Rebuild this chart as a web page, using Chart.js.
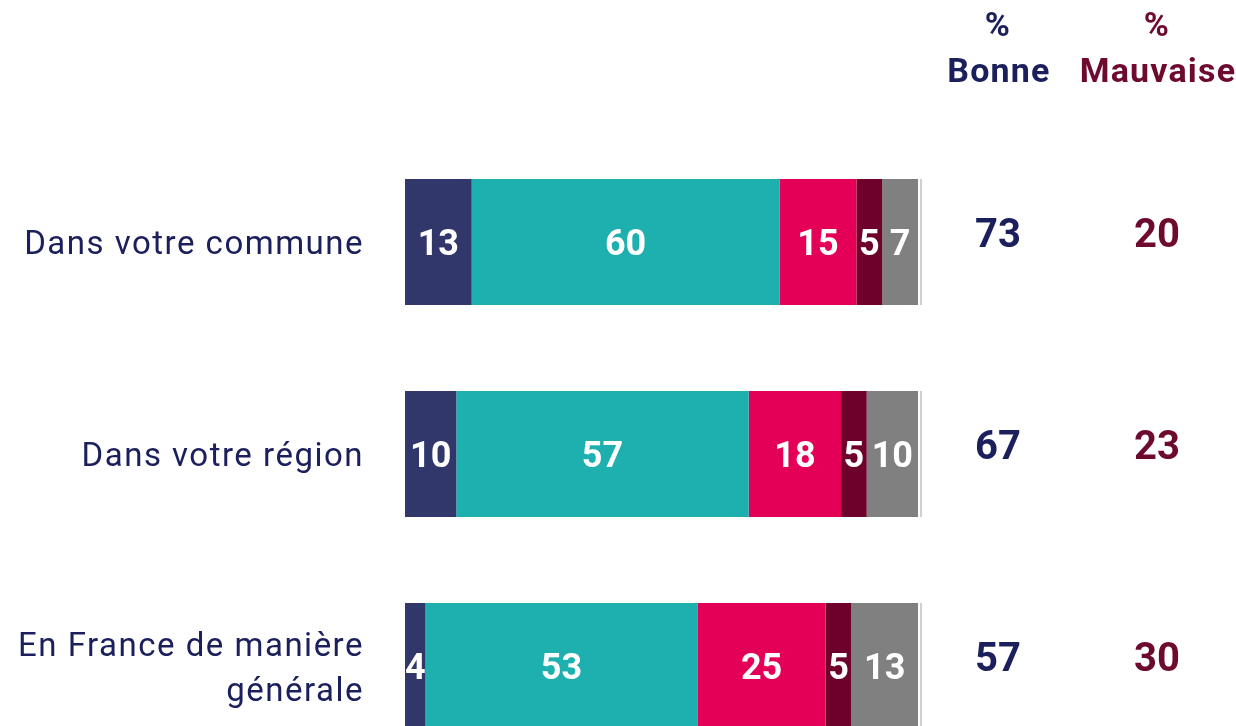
<!DOCTYPE html>
<html lang="fr">
<head>
<meta charset="utf-8">
<title>Situation perçue</title>
<script src="https://cdn.jsdelivr.net/npm/chart.js@4.4.1/dist/chart.umd.min.js"></script>
<style>
	html, body { margin: 0; padding: 0; background: #fff; overflow: hidden; }
	#wrap { position: relative; width: 1236px; height: 800px; }
</style>
</head>
<body>
<div id="wrap"><canvas id="chart" width="1236" height="800"></canvas></div>
<script>
const categories = [
	'Dans votre commune',
	'Dans votre région',
	['En France de manière', 'générale']
];
const tresBonne = [13, 10, 4];
const plutotBonne = [60, 57, 53];
const plutotMauvaise = [15, 18, 25];
const tresMauvaise = [5, 5, 5];
const nsp = [7, 10, 13];
const totalBonne = [73, 67, 57];
const totalMauvaise = [20, 23, 30];

const NAVY = '#1b1f5c';
const WINE = '#6e0a2e';
const FONT = 'Roboto, "Noto Sans", sans-serif';

// the original font is a bit wider than Roboto, so space the letters out
const spacing = {
	id: 'spacing',
	beforeDraw(chart){ chart.ctx.letterSpacing = '1.5px'; },
	afterDraw(chart){ chart.ctx.letterSpacing = '0px'; }
};

// white numbers inside each segment
const segmentLabels = {
	id: 'segmentLabels',
	afterDatasetsDraw(chart){
		const ctx = chart.ctx;
		ctx.save();
		ctx.letterSpacing = '0px';
		ctx.fillStyle = '#fff';
		ctx.font = 'bold 36px ' + FONT;
		ctx.textAlign = 'center';
		ctx.textBaseline = 'middle';
		chart.data.datasets.forEach((ds, di) => {
			chart.getDatasetMeta(di).data.forEach((bar, i) => {
				ctx.fillText(String(ds.data[i]), (bar.x + bar.base) / 2, bar.y + 4);
			});
		});
		ctx.restore();
	}
};

// "% Bonne" / "% Mauvaise" columns on the right
const totalsColumns = {
	id: 'totalsColumns',
	afterDraw(chart){
		const ctx = chart.ctx;
		const y = chart.scales.y;
		const cols = [
			{ x: 998, title: 'Bonne', color: NAVY, values: totalBonne },
			{ x: 1157, title: 'Mauvaise', color: WINE, values: totalMauvaise }
		];
		ctx.save();
		ctx.textAlign = 'center';
		ctx.textBaseline = 'middle';
		cols.forEach(c => {
			ctx.fillStyle = c.color;
			ctx.letterSpacing = '1.2px';
			ctx.font = 'bold 34px ' + FONT;
			ctx.fillText('%', c.x, 27);
			ctx.fillText(c.title, c.x + 1, 73);
			ctx.letterSpacing = '0px';
			ctx.font = 'bold 40px ' + FONT;
			c.values.forEach((v, i) => ctx.fillText(String(v), c.x, y.getPixelForValue(i) - 5));
		});
		// thin light edge after each bar
		ctx.strokeStyle = '#cfcfcf';
		ctx.lineWidth = 2;
		const meta = chart.getDatasetMeta(chart.data.datasets.length - 1);
		meta.data.forEach(bar => {
			ctx.beginPath();
			ctx.moveTo(bar.x + 3, bar.y - bar.height / 2);
			ctx.lineTo(bar.x + 3, bar.y + bar.height / 2);
			ctx.stroke();
		});
		ctx.restore();
	}
};

new Chart(document.getElementById('chart'), {
	type: 'bar',
	data: {
		labels: categories,
		datasets: [
			{ label: 'Très bonne', data: tresBonne, backgroundColor: '#31366b' },
			{ label: 'Plutôt bonne', data: plutotBonne, backgroundColor: '#1eb0ae' },
			{ label: 'Plutôt mauvaise', data: plutotMauvaise, backgroundColor: '#e40057' },
			{ label: 'Très mauvaise', data: tresMauvaise, backgroundColor: '#6e002c' },
			{ label: 'NSP', data: nsp, backgroundColor: '#808080' }
		]
	},
	options: {
		indexAxis: 'y',
		responsive: false,
		animation: false,
		events: [],
		layout: { padding: { top: 136, right: 318, bottom: 28, left: 0 } },
		datasets: { bar: { categoryPercentage: 1, barPercentage: 0.594, borderWidth: 0 } },
		plugins: { legend: { display: false }, tooltip: { enabled: false } },
		scales: {
			x: { stacked: true, min: 0, max: 100, display: false },
			y: {
				stacked: true,
				border: { display: false },
				grid: { display: false, drawTicks: false },
				ticks: {
					color: NAVY,
					padding: 41,
					labelOffset: 4,
					font: { family: FONT, size: 33, lineHeight: 1.36 }
				},
				afterFit(scale){
					scale.width = 405;
					scale.paddingTop = 0;
					scale.paddingBottom = 0;
				}
			}
		}
	},
	plugins: [spacing, segmentLabels, totalsColumns]
});
</script>
</body>
</html>
